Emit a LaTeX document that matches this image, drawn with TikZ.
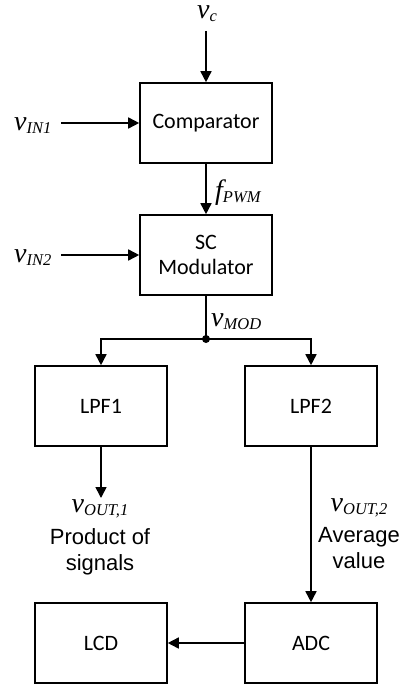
\documentclass[tikz,border=0pt]{standalone}
\usepackage{fontspec}
\setmainfont{Carlito}
\newfontfamily\tnr{Liberation Serif}
\newfontfamily\arl{Liberation Sans}
\usetikzlibrary{arrows.meta}
\newcommand{\sig}[2]{{\tnr\itshape\fontsize{28}{28}\selectfont #1\raisebox{-3pt}{\fontsize{16.5}{16.5}\selectfont #2}}}
\begin{document}
\begin{tikzpicture}[x=1pt,y=-1pt,
  blk/.style={draw,line width=1.6pt,minimum width=132pt,minimum height=80pt,inner sep=0pt,
    font=\fontsize{22}{25}\selectfont,align=center},
  desc/.style={font=\arl\fontsize{22}{26}\selectfont,align=center,inner sep=0pt},
  lbl/.style={inner sep=0pt},
  conn/.style={line width=1.6pt},
  arr/.style={conn,-{Triangle[length=11pt,width=11pt]}}]
\useasboundingbox (0,0) rectangle (413,690);
\node[blk] (cmp) at (206,123) {Comparator};
\node[blk] (mod) at (206,255) {SC\\Modulator};
\node[blk] (lpf1) at (101,406) {LPF1};
\node[blk] (lpf2) at (311,406) {LPF2};
\node[blk] (lcd) at (101,643) {LCD};
\node[blk] (adc) at (311,643) {ADC};
% labels
\node[lbl,anchor=base] (vc) at (207,18.5) {\sig{v}{c}};
\node[lbl,anchor=base west] (vin1) at (14,130) {\sig{v}{IN1}};
\node[lbl,anchor=base west] (vin2) at (14,262) {\sig{v}{IN2}};
\node[lbl,anchor=base west] (fpwm) at (215,199) {\sig{f}{PWM}};
\node[lbl,anchor=base west] (vmod) at (211,326) {\sig{v}{MOD}};
\node[lbl,anchor=base] (vo1) at (100,512) {\sig{v}{OUT,1}};
\node[lbl,anchor=base] (vo2) at (359,511) {\sig{v}{OUT,2}};
\node[desc,anchor=north] (d1) at (100,528) {Product of\\signals};
\node[desc,anchor=north] (d2) at (359,527) {Average\\value};
% coordinates
\coordinate (vctail) at (206,31);
\coordinate (in1tail) at (61,123);
\coordinate (in2tail) at (61,255);
\coordinate (junc) at (206,339);
\coordinate (jl) at (101,339);
\coordinate (jr) at (311,339);
\coordinate (o1) at (101,498);
% connectors
\draw[arr] (vctail) -- (cmp.north);
\draw[arr] (in1tail) -- (cmp.west|-in1tail);
\draw[arr] (in2tail) -- (mod.west|-in2tail);
\draw[arr] (cmp.south) -- (mod.north);
\draw[conn] (mod.south) -- (junc);
\draw[arr] (junc) -- (jl) -- (lpf1.north);
\draw[arr] (junc) -- (jr) -- (lpf2.north);
\fill (junc) circle (4pt);
\draw[arr] (lpf1.south) -- (o1);
\draw[arr] (lpf2.south) -- (adc.north);
\draw[arr] (adc.west) -- (lcd.east);
\end{tikzpicture}
\end{document}
